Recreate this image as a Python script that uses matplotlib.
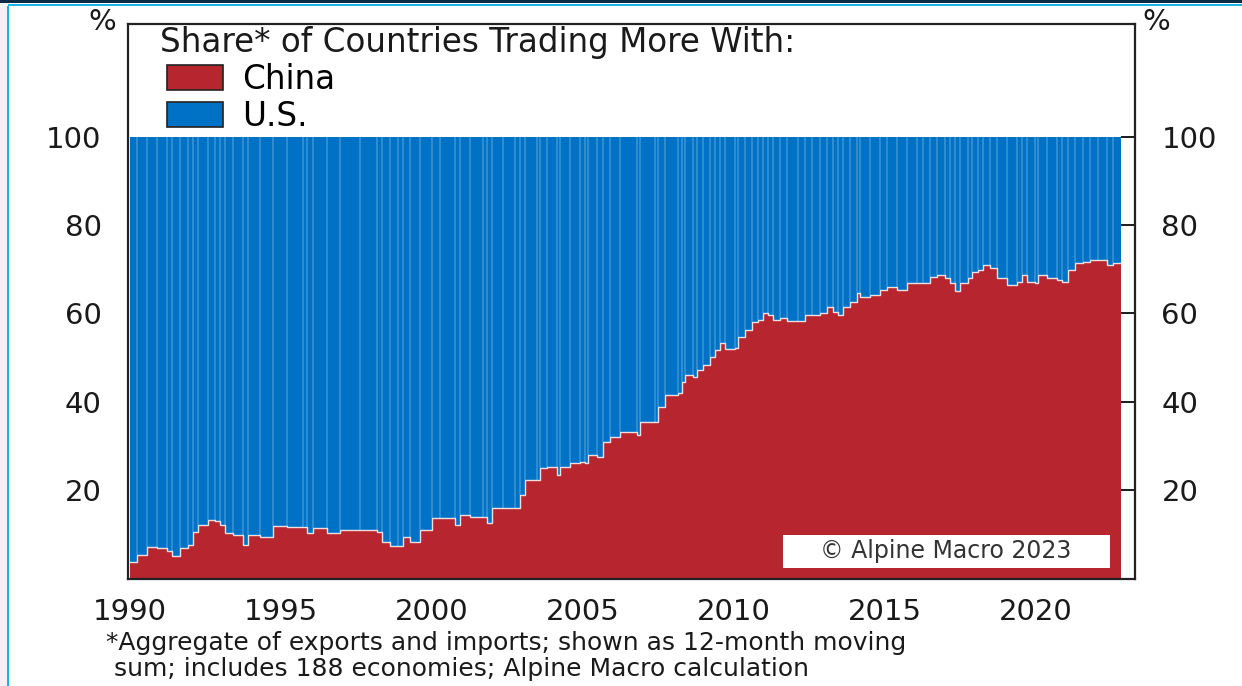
import numpy as np
import matplotlib
matplotlib.use("Agg")
import matplotlib.pyplot as plt
from matplotlib.patches import Patch, Rectangle

# ---- data ----
dates = [
    1990.00, 1990.22, 1990.55, 1990.88, 1991.22, 1991.38, 1991.66, 1991.92,
    1992.09, 1992.25, 1992.58, 1992.81, 1992.98, 1993.15, 1993.41, 1993.74,
    1993.91, 1994.30, 1994.74, 1995.20, 1995.73, 1995.86, 1996.06, 1996.52,
    1996.95, 1997.62, 1998.18, 1998.34, 1998.61, 1998.87, 1999.04, 1999.27,
    1999.60, 2000.00, 2000.26, 2000.76, 2000.93, 2001.26, 2001.69, 2001.82,
    2001.99, 2002.35, 2002.75, 2002.91, 2003.08, 2003.47, 2003.58, 2003.80,
    2004.13, 2004.24, 2004.57, 2004.90, 2005.07, 2005.17, 2005.45, 2005.66,
    2005.89, 2006.23, 2006.78, 2006.89, 2007.38, 2007.48, 2007.72, 2008.15,
    2008.27, 2008.38, 2008.64, 2008.77, 2008.97, 2009.21, 2009.37, 2009.54,
    2009.70, 2010.03, 2010.13, 2010.36, 2010.59, 2010.79, 2010.96, 2011.13,
    2011.29, 2011.52, 2011.75, 2012.12, 2012.35, 2012.57, 2012.85, 2013.07,
    2013.28, 2013.44, 2013.61, 2013.84, 2014.06, 2014.17, 2014.50, 2014.83,
    2015.06, 2015.39, 2015.72, 2016.05, 2016.27, 2016.49, 2016.71, 2016.99,
    2017.15, 2017.32, 2017.48, 2017.76, 2017.87, 2018.09, 2018.25, 2018.48,
    2018.70, 2019.03, 2019.36, 2019.53, 2019.69, 2019.97, 2020.08, 2020.35,
    2020.68, 2020.85, 2021.07, 2021.29, 2021.57, 2021.79, 2022.06, 2022.34,
    2022.56, 2022.80,
]
china = [
    3.8, 5.3, 7.2, 6.9, 6.3, 5.1, 6.9, 7.6,
    10.6, 12.1, 13.2, 12.9, 12.1, 10.3, 9.8, 7.6,
    9.8, 9.5, 11.9, 11.7, 11.7, 10.3, 11.4, 10.3,
    11.0, 11.0, 10.6, 8.3, 7.4, 7.4, 9.5, 8.3,
    11.0, 13.7, 13.7, 12.1, 14.4, 14.0, 14.0, 12.6,
    16.0, 16.0, 16.0, 18.9, 22.3, 22.3, 25.0, 25.3,
    23.4, 25.3, 26.1, 26.4, 26.1, 27.9, 27.6, 30.9,
    32.1, 33.2, 32.5, 35.5, 35.5, 38.9, 41.5, 42.0,
    44.5, 46.0, 45.7, 47.2, 48.3, 50.2, 51.7, 53.3,
    51.9, 52.1, 54.7, 56.2, 58.1, 58.5, 60.1, 59.6,
    58.5, 58.9, 58.3, 58.3, 59.6, 59.6, 60.1, 61.5,
    60.4, 59.6, 61.5, 62.6, 64.6, 63.8, 64.1, 65.3,
    66.0, 65.3, 66.8, 66.9, 66.8, 68.3, 68.7, 67.9,
    66.8, 65.1, 66.8, 67.9, 69.4, 69.8, 70.9, 70.2,
    67.9, 66.4, 67.1, 68.7, 67.1, 66.8, 68.7, 67.9,
    67.5, 67.1, 69.8, 71.3, 71.7, 72.1, 72.1, 70.9,
    71.3, 71.3,
]
total = 100
series_labels = ["China", "U.S."]
x_ticks = [1990, 1995, 2000, 2005, 2010, 2015, 2020]
y_ticks = [20, 40, 60, 80, 100]

# ---- style ----
RED = "#B7252E"
BLUE = "#0072C6"
STRIPE = "#6AAEE0"
FONT = "DejaVu Sans"
plt.rcParams["font.family"] = [FONT]
TXT = "#1a1a1a"

W, H = 1242, 686
fig = plt.figure(figsize=(W / 100, H / 100), dpi=100)
fig.patch.set_facecolor("white")

# decorative frame of the screenshot
fig.add_artist(Rectangle((0, 1 - 3 / H), 1, 3 / H, transform=fig.transFigure,
                         color="#0b2a45", lw=0))
fig.add_artist(Rectangle((8 / W, 1 - 6 / H), 1, 2 / H, transform=fig.transFigure,
                         color="#19b1e6", lw=0))
fig.add_artist(Rectangle((0, 0), 7 / W, 1 - 3 / H, transform=fig.transFigure,
                         color="#f2f2f2", lw=0))
fig.add_artist(Rectangle((7 / W, 0), 2 / W, 1 - 6 / H, transform=fig.transFigure,
                         color="#19b1e6", lw=0))

ax = fig.add_axes([128 / W, (H - 578.5) / H, 1007 / W, (578.5 - 24) / H])

d = np.array(dates)
c = np.array(china)

# stacked areas: China at the bottom, U.S. on top up to 100
ax.fill_between(d, c, total, step="post", color=BLUE, lw=0, zorder=1)
ax.fill_between(d, 0, c, step="post", color=RED, lw=0, zorder=2)
# light seams in the U.S. block (as in the source rendering)
ax.vlines(d[1:-1], c[1:-1], total, colors=STRIPE, lw=1.4, alpha=0.45, zorder=1.5)
ax.step(d, c, where="post", color="white", lw=1.0, alpha=0.85, zorder=3)

ax.set_xlim(1990 - 2 / 30.2, 1990 + 1005 / 30.2)
ax.set_ylim(0, (578.5 - 24) / 4.42)

for s in ax.spines.values():
    s.set_linewidth(1.6)
    s.set_color("#222222")

ax.set_xticks(x_ticks)
ax.set_xticklabels([str(t) for t in x_ticks])
ax.tick_params(axis="x", length=0, pad=14, labelsize=21, colors=TXT)
ax.set_yticks(y_ticks)
ax.set_yticklabels([str(t) for t in y_ticks])
ax.tick_params(axis="y", which="both", left=False, right=True, labelleft=True,
               labelright=True, direction="in", length=10, width=1.4,
               labelsize=21, colors=TXT, pad=19)

# legend + title
ax.text(0.032, 0.9495, "Share* of Countries Trading More With:", transform=ax.transAxes,
        fontsize=23.5, color=TXT, ha="left", va="baseline", zorder=5)
handles = [Patch(facecolor=RED, edgecolor="#222222", lw=1.2, label=series_labels[0]),
           Patch(facecolor=BLUE, edgecolor="#222222", lw=1.2, label=series_labels[1])]
ax.legend(handles=handles, loc="upper left", bbox_to_anchor=(0.039, 0.93),
          frameon=False, fontsize=23.5, handlelength=1.7, handleheight=0.82,
          handletextpad=0.6, labelspacing=0.12, borderpad=0, borderaxespad=0)

# copyright box
ax.add_patch(Rectangle((0.650, 0.019), 0.325, 0.0595, transform=ax.transAxes,
                       fc="white", ec="none", zorder=5))
ax.text(0.8125, 0.049, "\u00a9 Alpine Macro 2023", transform=ax.transAxes,
        fontsize=17, color="#333333", ha="center", va="center", zorder=6)

# percent signs
fig.text(102 / W, 1 - 22.5 / H, "%", fontsize=21, color=TXT, ha="center", va="center")
fig.text(1156 / W, 1 - 22.5 / H, "%", fontsize=21, color=TXT, ha="center", va="center")

# footnote
fig.text(106 / W, 1 - 650 / H, "*Aggregate of exports and imports; shown as 12-month moving",
         fontsize=18, color=TXT, ha="left", va="baseline")
fig.text(114 / W, 1 - 676 / H, "sum; includes 188 economies; Alpine Macro calculation",
         fontsize=18, color=TXT, ha="left", va="baseline")

fig.savefig("out.png", dpi=100)
